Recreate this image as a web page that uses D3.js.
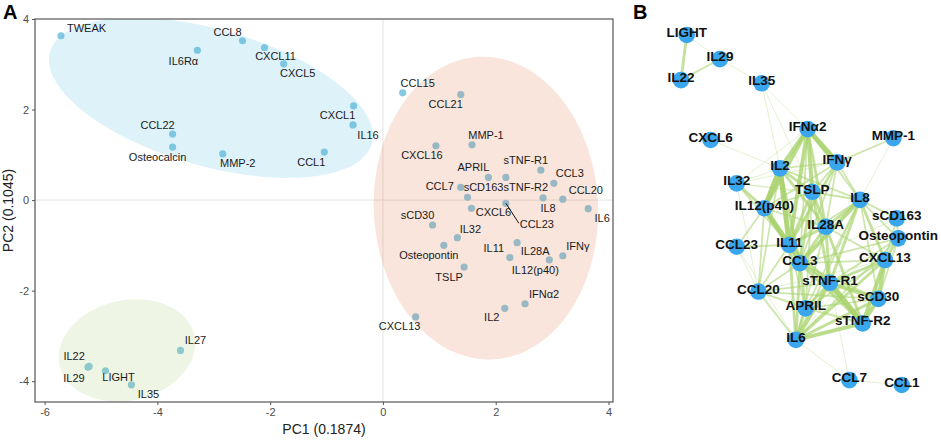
<!DOCTYPE html>
<html>
<head>
<meta charset="utf-8">
<script src="https://cdn.jsdelivr.net/npm/d3@7"></script>
<style>
  body { margin: 0; background: white; }
  svg { font-family: "Liberation Sans", Arial, sans-serif; }
</style>
</head>
<body>
<svg id="chart" width="941" height="440"></svg>
<script>
// PCA scores (panel A)
const cytokines = ["TWEAK","IL6R\u03b1","CCL8","CXCL11","CXCL5","CXCL1","IL16","CCL1","CCL22","Osteocalcin","MMP-2",
  "IL27","IL22","IL29","LIGHT","IL35",
  "CCL15","CCL21","MMP-1","CXCL16","APRIL","sTNF-R1","CCL3","CCL7","sCD163","sTNF-R2","CCL20","IL8","IL6","CXCL6","CCL23",
  "sCD30","IL32","Osteopontin","TSLP","IL11","IL28A","IL12(p40)","IFN\u03b3","IFN\u03b12","IL2","CXCL13"]
const pc1 = [-5.71,-3.29,-2.49,-2.10,-1.76,-0.52,-0.53,-1.04,-3.73,-3.73,-2.84,
  -3.59,-5.21,-5.23,-4.92,-4.46,
  0.35,1.38,1.58,0.94,1.87,2.80,3.03,1.38,1.50,2.18,3.19,2.84,3.64,1.57,2.18,
  0.88,1.32,1.08,1.44,2.25,2.38,2.95,3.19,2.52,2.16,0.58]
const pc2 = [3.63,3.31,3.52,3.37,3.01,2.08,1.66,1.06,1.46,1.17,1.02,
  -3.32,-3.67,-3.69,-3.77,-4.08,
  2.37,2.33,1.22,1.20,0.50,0.66,0.37,0.28,0.06,0.50,0.02,0.05,-0.19,-0.18,-0.07,
  -0.55,-0.83,-1.00,-1.48,-1.27,-0.94,-1.32,-1.23,-2.29,-2.39,-2.58]
const xTicks = [-6,-4,-2,0,2,4]
const yTicks = [-4,-2,0,2,4]

// cluster ellipses: centre and two half-axis vectors, in PC units
const ellCentre = [[-3.05, 2.26], [1.826, -0.177], [-4.539, -3.319]]
const ellAxisA = [[2.853, -1.013], [0.115, -3.341], [1.195, 0.327]]
const ellAxisB = [[-0.331, -1.451], [1.986, 0.106], [0.190, -1.080]]
const ellColour = ["#5abee6", "#e17d50", "#aacd78"]

// label nudges (px) like ggrepel placed them
const labelNudge = {
  "TWEAK":[6,-4,"start"], "IL6R\u03b1":[-14,15], "CCL8":[-15,-5], "CXCL11":[11,12], "CXCL5":[14,13],
  "CXCL1":[-16,13], "IL16":[15,14], "CCL1":[-13,14], "CCL22":[-15,-5], "Osteocalcin":[-15,14], "MMP-2":[15,13],
  "IL27":[15,-6], "IL22":[-15,-6], "IL29":[-14,15], "LIGHT":[13,10], "IL35":[17,13],
  "CCL15":[15,-6], "CCL21":[-15,13], "MMP-1":[14,-6], "CXCL16":[-14,13], "APRIL":[-15,-6], "sTNF-R1":[-15,-6],
  "CCL3":[16,-6], "CCL7":[-21,3], "sCD163":[16,-6], "sTNF-R2":[20,14], "CCL20":[23,-5], "IL8":[5,14], "IL6":[14,13],
  "CXCL6":[22,8], "CCL23":[31,25], "sCD30":[-15,-6], "IL32":[13,-5], "Osteopontin":[-15,14], "TSLP":[-15,14],
  "IL11":[-16,-6], "IL28A":[18,12], "IL12(p40)":[-14,14], "IFN\u03b3":[15,-6], "IFN\u03b12":[19,-6], "IL2":[-13,13],
  "CXCL13":[-16,13]
}

// correlation network (panel B), layout units 0-100
const netNodes = ["LIGHT","IL29","IL22","IL35","IFN\u03b12","MMP-1","CXCL6","IFN\u03b3","IL2","IL32","TSLP","IL8",
  "IL12(p40)","sCD163","IL28A","Osteopontin","CCL23","IL11","CXCL13","CCL3","sTNF-R1","CCL20","sCD30","APRIL",
  "sTNF-R2","IL6","CCL7","CCL1"]
const netX = [2.6,17.6,0,36.5,57.3,96.1,13.4,70.7,44.8,25.2,59.4,81.0,37.7,97.6,65.5,98.3,25.2,49.0,92.3,53.8,67.4,35.0,89.3,56.4,82.2,52.0,76.2,99.9]
const netY = [0,6.9,12.9,13.8,26.9,29.5,30.0,36.4,38.1,42.4,44.8,47.1,49.5,52.4,54.8,58.1,60.5,60.0,64.3,65.2,70.8,73.3,75.4,78.1,82.4,87.1,98.6,100]
const edgeSource = ["LIGHT","LIGHT","IL29","IL29","IL35","IL35","IL35","CXCL6","MMP-1","MMP-1",
  "IFN\u03b12","IFN\u03b12","IFN\u03b12","IFN\u03b12","IFN\u03b12","IFN\u03b12","IFN\u03b12","IFN\u03b12","IFN\u03b12",
  "IL2","IL2","IL2","IL2","IL2","IL2","IL2","IL2","IL2",
  "IFN\u03b3","IFN\u03b3","IFN\u03b3","IFN\u03b3","IFN\u03b3","IFN\u03b3","IFN\u03b3",
  "IL32","IL32","IL32","IL32","IL32",
  "TSLP","TSLP","TSLP","TSLP","TSLP","TSLP","TSLP",
  "IL8","IL8","IL8","IL8","IL8","IL8","IL8","IL8","IL8","IL8",
  "IL12(p40)","IL12(p40)","IL12(p40)","IL12(p40)","IL12(p40)",
  "sCD163","sCD163","sCD163","sCD163",
  "IL28A","IL28A","IL28A","IL28A","IL28A","IL28A",
  "Osteopontin","Osteopontin","Osteopontin","Osteopontin","Osteopontin",
  "CCL23","CCL23","CCL23",
  "IL11","IL11","IL11","IL11","IL11","IL11",
  "CXCL13","CXCL13","CXCL13","CXCL13","CXCL13","CXCL13","CXCL13",
  "CCL3","CCL3","CCL3","CCL3","CCL3","CCL3",
  "sTNF-R1","sTNF-R1","sTNF-R1","sTNF-R1","sTNF-R1","sTNF-R1",
  "CCL20","CCL20","CCL20","CCL20",
  "sCD30","sCD30","sCD30","APRIL","APRIL","sTNF-R2","IL6","CCL7"]
const edgeTarget = ["IL22","IL29","IL22","IL35","IFN\u03b12","IL2","TSLP","IL2","IFN\u03b3","IL8",
  "IL2","IFN\u03b3","TSLP","IL12(p40)","IL11","IL28A","IL32","IL8","CCL3",
  "IFN\u03b3","TSLP","IL12(p40)","IL11","IL32","IL8","IL28A","CCL3","CCL20",
  "TSLP","IL8","IL11","IL28A","IL12(p40)","CCL3","IL32",
  "IL12(p40)","TSLP","IL11","IL8","CCL20",
  "IL8","IL28A","IL11","CCL3","sTNF-R1","IL12(p40)","APRIL",
  "IL28A","CCL3","sTNF-R1","sCD163","Osteopontin","CXCL13","sCD30","IL6","APRIL","IL11",
  "IL11","CCL23","CCL20","CCL3","IL28A",
  "Osteopontin","CXCL13","CCL3","IL6",
  "IL11","CCL3","sTNF-R1","CXCL13","sTNF-R2","IL6",
  "CXCL13","sTNF-R1","CCL3","IL6","sCD30",
  "IL11","CCL20","IL6",
  "CCL3","sTNF-R1","CCL20","IL6","APRIL","sTNF-R2",
  "sTNF-R1","sCD30","sTNF-R2","CCL3","IL6","APRIL","CCL20",
  "sTNF-R1","CCL20","APRIL","IL6","sTNF-R2","sCD30",
  "sTNF-R2","sCD30","IL6","APRIL","CCL20","CCL7",
  "APRIL","IL6","sCD30","sTNF-R2",
  "sTNF-R2","IL6","APRIL","IL6","sTNF-R2","IL6","CCL7","CCL1"]
const edgeWeight = [3,1,2,1,1,1,1,1,2,1,
  4,5,4,4,4,3,1,2,2,
  2,3,5,5,1,2,3,3,2,
  2,2,3,2,2,2,1,
  3,1,2,1,1,
  2,3,3,3,3,2,2,
  3,4,3,2,2,3,2,2,2,2,
  5,2,2,3,2,
  2,2,1,1,
  3,3,3,2,3,2,
  3,2,2,2,2,
  2,1,1,
  3,3,2,3,2,2,
  3,4,4,2,3,2,1,
  3,2,3,3,3,2,
  5,4,4,3,2,1,
  2,2,2,1,
  4,3,2,3,2,4,1,1]

const svg = d3.select("#chart")

drawPCA()
drawNetwork()

function drawPCA(){
    const left = 35, right = 613, top = 19, bottom = 402
    const x = d3.scaleLinear().domain([-6.17, 4.08]).range([left, right])
    const y = d3.scaleLinear().domain([-4.46, 4.0]).range([bottom, top])

    svg.append("clipPath").attr("id", "clipA")
        .append("rect").attr("x", left).attr("y", top).attr("width", right-left).attr("height", bottom-top)
    const plot = svg.append("g").attr("clip-path", "url(#clipA)")

    // zero reference lines
    plot.append("line").attr("x1", x(0)).attr("x2", x(0)).attr("y1", top).attr("y2", bottom)
        .attr("stroke", "#e3e3e3").attr("stroke-width", 1)
    plot.append("line").attr("x1", left).attr("x2", right).attr("y1", y(0)).attr("y2", y(0))
        .attr("stroke", "#e3e3e3").attr("stroke-width", 1)

    const idx = d3.range(cytokines.length)
    plot.selectAll(".pt").data(idx).enter().append("circle")
        .attr("cx", i => x(pc1[i])).attr("cy", i => y(pc2[i]))
        .attr("r", 3.6).attr("fill", "#86c9e2")

    // ellipses laid over points (alpha), as in the figure
    const line = d3.line().curve(d3.curveLinearClosed)
    ellCentre.forEach(function(c, k){
        const pts = d3.range(0, 2*Math.PI, Math.PI/90).map(function(t){
            const px = c[0] + ellAxisA[k][0]*Math.cos(t) + ellAxisB[k][0]*Math.sin(t)
            const py = c[1] + ellAxisA[k][1]*Math.cos(t) + ellAxisB[k][1]*Math.sin(t)
            return [x(px), y(py)]
        })
        plot.append("path").attr("d", line(pts))
            .attr("fill", ellColour[k]).attr("fill-opacity", 0.2)
    })

    // CCL23 leader segment
    const iC = cytokines.indexOf("CCL23")
    plot.append("line")
        .attr("x1", x(pc1[iC])).attr("y1", y(pc2[iC]))
        .attr("x2", x(pc1[iC]) + 13).attr("y2", y(pc2[iC]) + 20)
        .attr("stroke", "#111").attr("stroke-width", 1)

    plot.selectAll(".lab").data(idx).enter().append("text")
        .attr("x", i => x(pc1[i]) + labelNudge[cytokines[i]][0])
        .attr("y", i => y(pc2[i]) + labelNudge[cytokines[i]][1])
        .attr("text-anchor", i => labelNudge[cytokines[i]][2] || "middle")
        .attr("font-size", 11).attr("fill", "#1a1a1a")
        .text(i => cytokines[i])

    // frame and axes
    svg.append("rect").attr("x", left).attr("y", top).attr("width", right-left).attr("height", bottom-top)
        .attr("fill", "none").attr("stroke", "#555").attr("stroke-width", 1.2)

    const fmt = d => String(d)
    const xAxis = svg.append("g").attr("transform", "translate(0," + bottom + ")")
        .call(d3.axisBottom(x).tickValues(xTicks).tickSize(3).tickPadding(3).tickFormat(fmt))
    const yAxis = svg.append("g").attr("transform", "translate(" + left + ",0)")
        .call(d3.axisLeft(y).tickValues(yTicks).tickSize(3).tickPadding(3).tickFormat(fmt))
    ;[xAxis, yAxis].forEach(function(a){
        a.select(".domain").remove()
        a.selectAll(".tick line").attr("stroke", "#555")
        a.selectAll(".tick text").attr("fill", "#4d4d4d").attr("font-size", 11)
            .attr("font-family", "Liberation Sans, Arial, sans-serif")
    })

    svg.append("text").attr("x", (left+right)/2).attr("y", 434)
        .attr("text-anchor", "middle").attr("font-size", 14).attr("fill", "#222")
        .text("PC1 (0.1874)")
    svg.append("text").attr("transform", "translate(13," + (top+bottom)/2 + ") rotate(-90)")
        .attr("text-anchor", "middle").attr("font-size", 14).attr("fill", "#222")
        .text("PC2 (0.1045)")

    svg.append("text").attr("x", 3).attr("y", 19)
        .attr("font-size", 20).attr("font-weight", "bold").text("A")
}

function drawNetwork(){
    const nx = d3.scaleLinear().domain([0, 100]).range([681, 902])
    const ny = d3.scaleLinear().domain([0, 100]).range([35, 385])
    const width = d3.scaleLinear().domain([1, 5]).range([0.7, 5])
    const alpha = d3.scaleLinear().domain([1, 5]).range([0.45, 0.9])

    const pos = {}
    netNodes.forEach(function(n, i){ pos[n] = [nx(netX[i]), ny(netY[i])] })

    const g = svg.append("g")
    g.selectAll(".edge").data(d3.range(edgeSource.length)).enter().append("line")
        .attr("x1", i => pos[edgeSource[i]][0]).attr("y1", i => pos[edgeSource[i]][1])
        .attr("x2", i => pos[edgeTarget[i]][0]).attr("y2", i => pos[edgeTarget[i]][1])
        .attr("stroke", "#a8d26c")
        .attr("stroke-opacity", i => alpha(edgeWeight[i]))
        .attr("stroke-width", i => width(edgeWeight[i]))

    g.selectAll(".node").data(netNodes).enter().append("circle")
        .attr("cx", d => pos[d][0]).attr("cy", d => pos[d][1])
        .attr("r", 8.3).attr("fill", "#39a6ee")

    g.selectAll(".nlab").data(netNodes).enter().append("text")
        .attr("x", d => pos[d][0]).attr("y", d => pos[d][1] + 2)
        .attr("text-anchor", "middle").attr("font-size", 13.5).attr("font-weight", "bold")
        .attr("fill", "#111")
        .text(d => d)

    svg.append("text").attr("x", 633).attr("y", 19)
        .attr("font-size", 20).attr("font-weight", "bold").text("B")
}
</script>
</body>
</html>
